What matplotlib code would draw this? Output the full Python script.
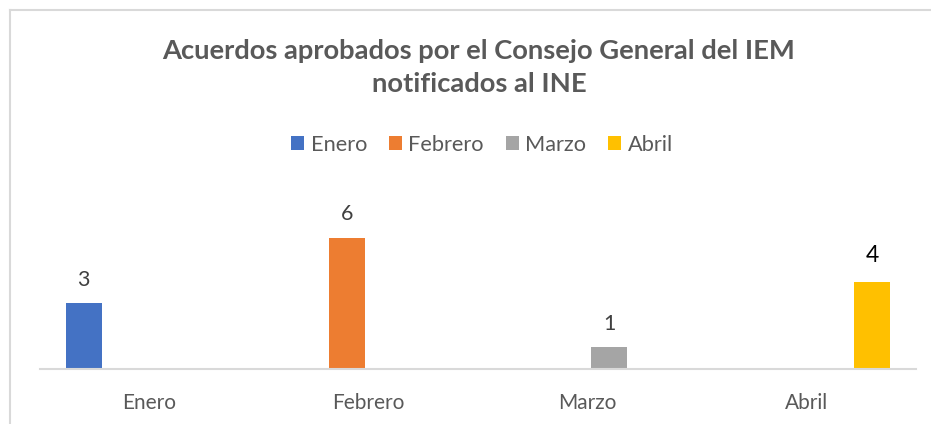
import matplotlib
matplotlib.use("Agg")
import matplotlib.pyplot as plt
from matplotlib.patches import Patch
from matplotlib.lines import Line2D
import numpy as np

plt.rcParams['font.family'] = ['Lato', 'DejaVu Sans']

categories = ["Enero", "Febrero", "Marzo", "Abril"]
series_names = ["Enero", "Febrero", "Marzo", "Abril"]
enero = [3, 0, 0, 0]
febrero = [0, 6, 0, 0]
marzo = [0, 0, 1, 0]
abril = [0, 0, 0, 4]
series_values = [enero, febrero, marzo, abril]
colors = ["#4472C4", "#ED7D31", "#A5A5A5", "#FFC000"]
title = "Acuerdos aprobados por el Consejo General del IEM\nnotificados al INE"

W, H = 931, 424
fig = plt.figure(figsize=(W / 100, H / 100), dpi=100)
fig.patch.set_facecolor("white")

# axes in pixel coordinates
left, right, bottom, top = 40, 916, 369, 216
ax = fig.add_axes([left / W, 1 - bottom / H, (right - left) / W, (bottom - top) / H])

x = np.arange(len(categories))
slot = 0.2
bw = 0.164
for j, (name, vals, c) in enumerate(zip(series_names, series_values, colors)):
    pos = x + (j - 1.5) * slot
    ax.bar(pos, vals, width=bw, color=c, label=name, zorder=2)
    for p, v in zip(pos, vals):
        if v > 0:
            is_last = (j == 3)
            ax.annotate(str(v), (p, v), xytext=(0, 17 if not is_last else 18.5),
                        textcoords="offset points", ha="center", va="center",
                        fontsize=15.5 if not is_last else 16.5,
                        color="#404040" if not is_last else "#000000")

ax.set_xlim(-0.5, len(categories) - 0.5)
ax.set_ylim(0, 7)
ax.set_xticks(x)
ax.set_xticklabels(categories, fontsize=15, color="#595959")
ax.tick_params(axis="x", length=0, pad=17)
ax.set_yticks([])
for s in ["top", "right", "left"]:
    ax.spines[s].set_visible(False)
ax.spines["bottom"].set_color("#D9D9D9")
ax.spines["bottom"].set_linewidth(1.5)
ax.patch.set_alpha(0)

# title
fig.text(479 / W, 1 - 67.5 / H, title, ha="center", va="center", fontsize=19.7,
         fontweight="bold", color="#595959", linespacing=1.42)

# legend
handles = [Patch(facecolor=c, edgecolor="none") for c in colors]
leg = fig.legend(handles, series_names, loc="center", bbox_to_anchor=(482 / W, 1 - 145 / H),
                 ncol=4, frameon=False, fontsize=15.7, handlelength=0.6, handleheight=0.6,
                 handletextpad=0.3, columnspacing=1.0, labelcolor="#595959")

# chart border
bc = "#D9D9D9"
fig.add_artist(Line2D([9.5 / W, 9.5 / W], [0, 1 - 9.5 / H], color=bc, lw=1.5, transform=fig.transFigure))
fig.add_artist(Line2D([9.5 / W, 1], [1 - 9.5 / H, 1 - 9.5 / H], color=bc, lw=1.5, transform=fig.transFigure))

fig.savefig("out.png", dpi=100, facecolor="white")
